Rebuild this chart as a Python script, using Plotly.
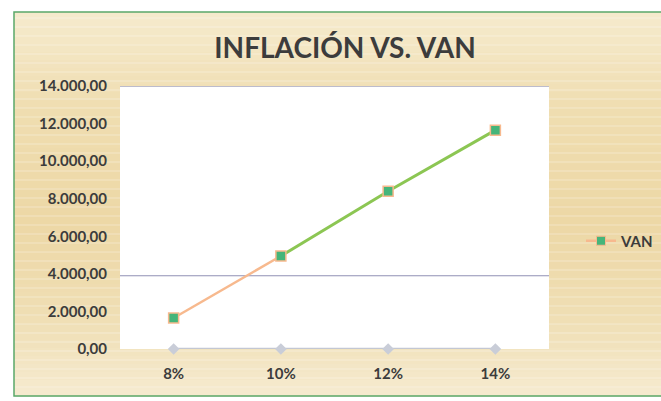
import plotly.graph_objects as go

# Chart data
categories = ["8%", "10%", "12%", "14%"]
van = [1650, 4950, 8400, 11650]
base_series = [0, 0, 0, 0]
ref_level = 3900
y_ticks = [0, 2000, 4000, 6000, 8000, 10000, 12000, 14000]
y_tick_labels = ["0,00", "2.000,00", "4.000,00", "6.000,00", "8.000,00",
                 "10.000,00", "12.000,00", "14.000,00"]

W, H = 661, 401
ML, MR, MT, MB = 120, 112, 86, 52
PW, PH = W - ML - MR, H - MT - MB

PEACH = "#f7b98e"
GREEN = "#8cc653"
MARK = "#45b57a"
TXT = "#3c3c3c"


def px_x(px):
    """Pixel column -> paper x."""
    return (px - ML) / PW


def px_y(py):
    """Pixel row (from top) -> paper y."""
    return 1 - (py - MT) / PH


fig = go.Figure()

# Baseline series with diamonds at zero
fig.add_trace(go.Scatter(
    x=categories, y=base_series, mode="lines+markers",
    line=dict(color="#c3c7d3", width=2.5),
    marker=dict(symbol="diamond", size=9, color="#c9cdd8"),
    showlegend=False, hoverinfo="skip", cliponaxis=False))

# VAN: first segment peach
fig.add_trace(go.Scatter(
    x=categories[:2], y=van[:2], mode="lines",
    line=dict(color=PEACH, width=2.5), showlegend=False))
# VAN: remaining segments green
fig.add_trace(go.Scatter(
    x=categories[1:], y=van[1:], mode="lines",
    line=dict(color=GREEN, width=3), showlegend=False))
# VAN markers
fig.add_trace(go.Scatter(
    x=categories, y=van, mode="markers", name="VAN",
    marker=dict(symbol="square", size=10, color=MARK,
                line=dict(color=PEACH, width=1.5)),
    showlegend=False))
# Legend entry
fig.add_trace(go.Scatter(
    x=[None], y=[None], mode="lines+markers", name="VAN",
    line=dict(color=PEACH, width=2.5),
    marker=dict(symbol="square", size=9, color=MARK,
                line=dict(color=PEACH, width=1))))

shapes = []
# Outer chart area: tan gradient built from horizontal bands
left_px, right_px = 14, W + 5
top_px, bot_px = 12, 396
stops = [(0.0, (246, 235, 206)), (0.25, (240, 222, 177)), (0.55, (237, 216, 166)),
         (0.8, (240, 223, 181)), (1.0, (246, 235, 208))]
n = 48
for i in range(n):
    t = (i + 0.5) / n
    c = stops[-1][1]
    for j in range(len(stops) - 1):
        if stops[j][0] <= t <= stops[j + 1][0]:
            a, ca = stops[j]
            b, cb = stops[j + 1]
            f = (t - a) / (b - a)
            c = tuple(int(ca[k] + (cb[k] - ca[k]) * f) for k in range(3))
            break
    ya = top_px + (bot_px - top_px) * i / n
    yb = top_px + (bot_px - top_px) * (i + 1) / n + 0.6
    shapes.append(dict(type="rect", xref="paper", yref="paper", layer="below",
                       x0=px_x(left_px), x1=px_x(right_px), y0=px_y(yb), y1=px_y(ya),
                       fillcolor="rgb(%d,%d,%d)" % c, line=dict(width=0)))
# Faint light stripes of the backdrop
for yy in range(18, bot_px, 9):
    shapes.append(dict(type="line", xref="paper", yref="paper", layer="below",
                       x0=px_x(left_px), x1=px_x(right_px), y0=px_y(yy), y1=px_y(yy),
                       line=dict(color="rgba(255,255,255,0.35)", width=1)))
# Green frame
shapes.append(dict(type="rect", xref="paper", yref="paper", layer="below",
                   x0=px_x(left_px), x1=px_x(right_px), y0=px_y(bot_px), y1=px_y(top_px),
                   line=dict(color="#5aa86a", width=1.5), fillcolor="rgba(0,0,0,0)"))
# Plot area (white)
shapes.append(dict(type="rect", xref="x domain", yref="y domain", layer="below",
                   x0=0, x1=1, y0=0, y1=1, fillcolor="white", line=dict(width=0)))
# Top border line and reference level line
shapes.append(dict(type="line", xref="x domain", yref="y", layer="below",
                   x0=0, x1=1, y0=14000, y1=14000,
                   line=dict(color="#a6a6bd", width=1.5)))
shapes.append(dict(type="line", xref="x domain", yref="y", layer="below",
                   x0=0, x1=1, y0=ref_level, y1=ref_level,
                   line=dict(color="#9090b4", width=1.2)))

fig.update_layout(
    width=W, height=H,
    margin=dict(l=ML, r=MR, t=MT, b=MB, autoexpand=False),
    paper_bgcolor="white", plot_bgcolor="rgba(0,0,0,0)",
    shapes=shapes,
    title=dict(text="<b>INFLACIÓN VS. VAN</b>", x=345 / W, xanchor="center",
               xref="container", y=1 - 48 / H, yanchor="middle", yref="container",
               font=dict(family="Lato", size=28, color=TXT)),
    xaxis=dict(type="category", range=[-0.5, 3.5], showgrid=False, zeroline=False,
               showline=False, ticks="",
               tickfont=dict(family="Lato", size=15, color=TXT, weight="bold"),
               ticklabelstandoff=14),
    yaxis=dict(range=[0, 14000], tickvals=y_ticks, ticktext=y_tick_labels,
               showgrid=False, zeroline=False, showline=False, ticks="",
               tickfont=dict(family="Lato", size=15, color=TXT, weight="bold"),
               ticklabelstandoff=12),
    legend=dict(x=px_x(581), y=px_y(241), xref="paper", yref="paper",
                xanchor="left", yanchor="middle", bgcolor="rgba(0,0,0,0)",
                itemwidth=30,
                font=dict(family="Lato", size=15, color=TXT, weight="bold")),
    showlegend=True,
)

fig.write_html("out.html")
